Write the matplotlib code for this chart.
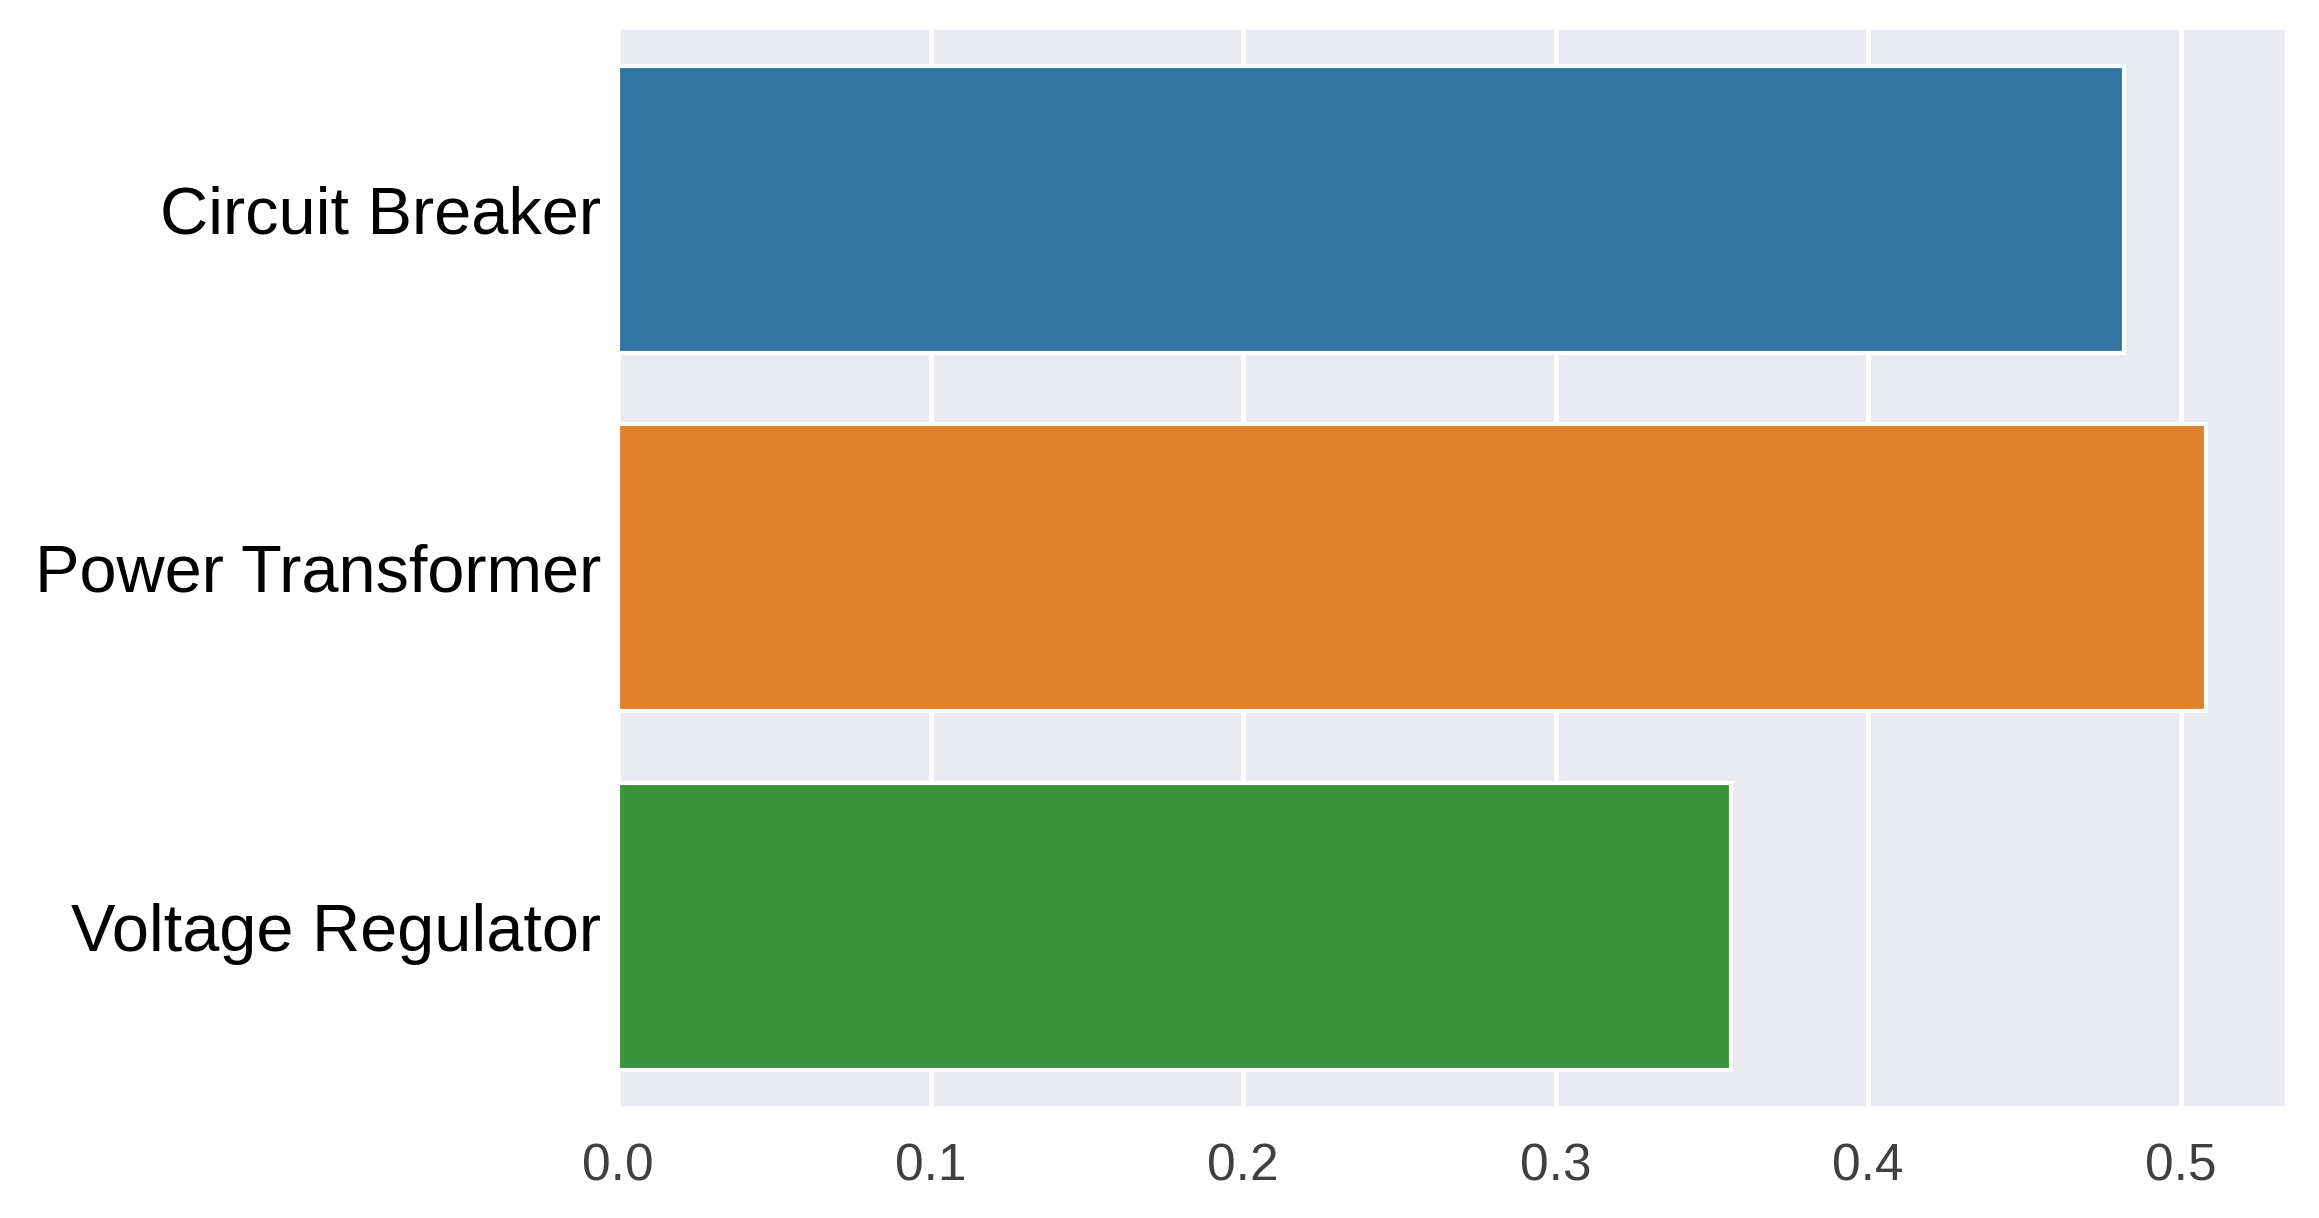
import matplotlib
matplotlib.use("Agg")
import matplotlib.pyplot as plt
import seaborn as sns

categories = ["Circuit Breaker", "Power Transformer", "Voltage Regulator"]
values = [0.482, 0.508, 0.356]
colors = ["#3274a1", "#e1812c", "#3a923a"]
xticks = [0.0, 0.1, 0.2, 0.3, 0.4, 0.5]

sns.set_style("darkgrid")
plt.rcParams['font.family'] = ['Liberation Sans', 'DejaVu Sans']

fig = plt.figure(figsize=(23.19, 12.18), dpi=100)
ax = fig.add_axes([0.2665, 0.092, 0.7188, 0.8834])

ypos = list(range(len(categories)))
ax.barh(ypos, values, height=0.8, color=colors, edgecolor="white", linewidth=3, zorder=2)
ax.set_yticks(ypos)
ax.set_yticklabels(categories, fontsize=48, color="black")
ax.set_ylim(2.5, -0.5)
ax.set_xlim(0, max(values) * 1.05)
ax.set_xticks(xticks)
ax.set_xticklabels([f"{t:.1f}" for t in xticks], fontsize=37, color="#404040")
ax.tick_params(axis="x", pad=26, length=0)
ax.tick_params(axis="y", pad=12, length=0)
ax.set_facecolor("#eaeaf2")
ax.grid(False)
ax.grid(True, axis="x", color="white", linewidth=3.5)
ax.set_axisbelow(True)
for s in ax.spines.values():
    s.set_visible(False)

fig.savefig("out.png", dpi=100, facecolor="white")
